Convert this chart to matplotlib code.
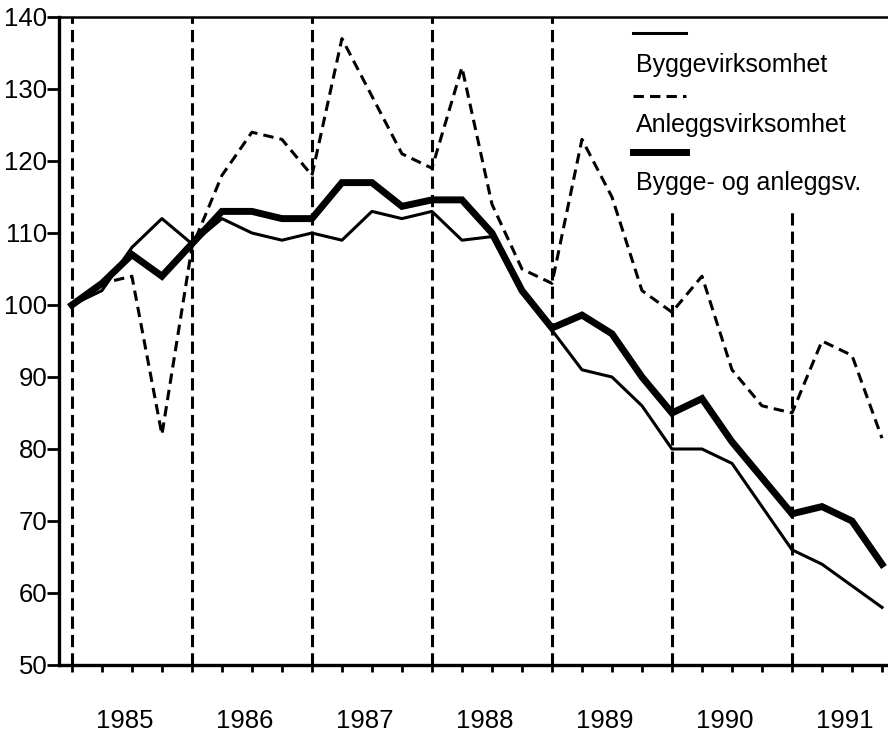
import matplotlib
matplotlib.use('Agg')
import matplotlib.pyplot as plt
from matplotlib.patches import Rectangle
from matplotlib.lines import Line2D

plt.rcParams['font.family'] = ['Liberation Sans', 'DejaVu Sans']

# quarterly index, 1985 Q1 = 100
years = ['1985', '1986', '1987', '1988', '1989', '1990', '1991']
bygg = [100, 102, 108, 112, 108.5, 112, 110, 109, 110, 109, 113, 112, 113, 109,
        109.5, 102, 96.5, 91, 90, 86, 80, 80, 78, 72, 66, 64, 61, 58]
anlegg = [100, 103, 104, 82, 108, 118, 124, 123, 118, 137, 129, 121, 119, 133,
          114, 105, 103, 123, 115, 102, 99, 104, 91, 86, 85, 95, 93, 81.5]
total = [100, 103, 107, 104, 108.5, 113, 113, 112, 112, 117, 117, 113.7, 114.6, 114.6,
         110, 102, 96.8, 98.6, 96, 90, 85, 87, 81, 76, 71, 72, 70, 64]
labels = ['Byggevirksomhet', 'Anleggsvirksomhet', 'Bygge- og anleggsv.']

x = list(range(len(bygg)))
dash_series = (0, (3.4, 2.0))

fig = plt.figure(figsize=(8.88, 7.35), dpi=100)
ax = fig.add_axes([59/888, 1-665/735, 1-59/888, (665-17)/735])

# year separators
for q in range(0, len(x), 4):
    ax.axvline(q, color='black', lw=2.2, ls=(0, (4.0, 2.0)), zorder=1)

# blank area behind the legend
ax.add_patch(Rectangle((18.4, 113.5), 10, 30, facecolor='white', edgecolor='none', zorder=2))

ax.plot(x, bygg, color='black', lw=2.2, zorder=3)
ax.plot(x, anlegg, color='black', lw=2.2, ls=dash_series, zorder=3)
ax.plot(x, total, color='black', lw=5, zorder=3, solid_joinstyle='miter')

ax.set_xlim(-0.43, 27.2)
ax.set_ylim(50, 140)
ax.set_yticks(range(50, 141, 10))
ax.set_xticks(x)
ax.set_xticklabels([])
ax.set_xticks([1.75 + 4*i for i in range(len(years))], minor=True)
ax.set_xticklabels(years, minor=True)

ax.tick_params(axis='y', direction='out', length=8.5, width=2, pad=0, labelsize=18.5)
ax.tick_params(axis='x', which='major', direction='out', length=5, width=2)
ax.tick_params(axis='x', which='minor', length=0, pad=32, labelsize=18.5)

ax.spines['right'].set_visible(False)
ax.spines['left'].set_linewidth(2.4)
ax.spines['bottom'].set_linewidth(2.4)
ax.spines['top'].set_linewidth(1.8)
for s in ax.spines.values():
    s.set_zorder(5)

# legend: sample line above each text
x0, x1 = 633/888, 686/888
fig.add_artist(Line2D([x0, x1], [1-33/735]*2, color='black', lw=2.2))
fig.add_artist(Line2D([x0, x1], [1-96/735]*2, color='black', lw=2.2, ls=dash_series))
fig.add_artist(Line2D([x0, x1], [1-152/735]*2, color='black', lw=5))
for lab, yb in zip(labels, [72, 132, 190]):
    fig.text(636/888, 1-yb/735, lab, fontsize=18, va='baseline', ha='left')

plt.savefig('out.png', dpi=100)
